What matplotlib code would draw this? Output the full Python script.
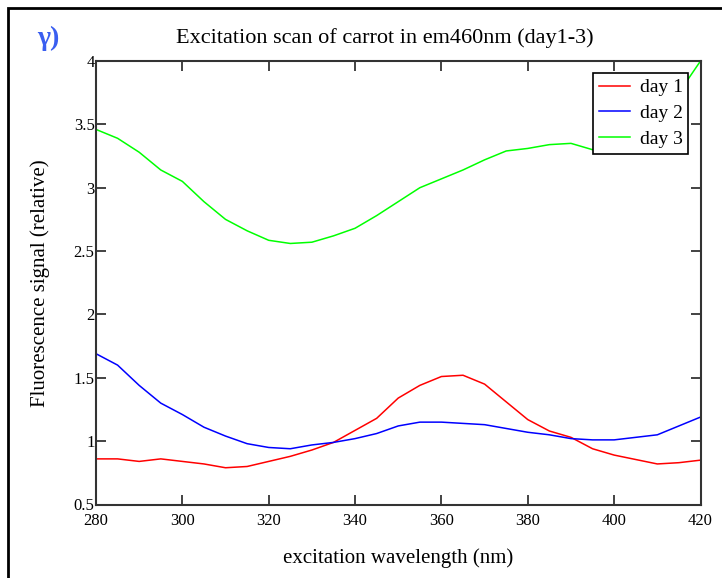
import matplotlib
matplotlib.use("Agg")
import matplotlib.pyplot as plt
from matplotlib.patches import Rectangle

plt.rcParams['font.family'] = ['Liberation Serif', 'DejaVu Serif']

wavelength = list(range(280, 421, 5))

day1 = [0.86, 0.86, 0.84, 0.86, 0.84, 0.82, 0.79, 0.80, 0.84, 0.88,
        0.93, 0.99, 1.085, 1.18, 1.34, 1.44, 1.51, 1.52, 1.45, 1.31,
        1.17, 1.08, 1.03, 0.94, 0.89, 0.855, 0.82, 0.83, 0.85]

day2 = [1.69, 1.60, 1.44, 1.30, 1.21, 1.11, 1.04, 0.98, 0.95, 0.94,
        0.97, 0.99, 1.02, 1.06, 1.12, 1.15, 1.15, 1.14, 1.13, 1.10,
        1.07, 1.05, 1.02, 1.01, 1.01, 1.03, 1.05, 1.12, 1.19]

day3 = [3.46, 3.39, 3.28, 3.14, 3.05, 2.89, 2.75, 2.66, 2.585, 2.56,
        2.57, 2.62, 2.68, 2.78, 2.89, 3.00, 3.07, 3.14, 3.22, 3.29,
        3.31, 3.34, 3.35, 3.30, 3.30, 3.40, 3.55, 3.75, 4.00]

series_labels = ['day 1', 'day 2', 'day 3']
series_colors = ['#ff0000', '#0000ff', '#00ff00']

x_ticks = [280, 300, 320, 340, 360, 380, 400, 420]
y_ticks = [0.5, 1, 1.5, 2, 2.5, 3, 3.5, 4]
y_tick_labels = ['0.5', '1', '1.5', '2', '2.5', '3', '3.5', '4']

W, H = 722, 578
fig = plt.figure(figsize=(W / 100, H / 100), dpi=100)

# outer frame of the figure panel
fig.patches.append(Rectangle((8 / W, -0.1), 1.2, 1.1 - 8 / H,
                             transform=fig.transFigure, fill=False,
                             edgecolor='black', linewidth=2.0))

left, right, top, bottom = 96, 700.5, 61, 504.5
ax = fig.add_axes([left / W, (H - bottom) / H, (right - left) / W, (bottom - top) / H])

for ys, lab, col in zip([day1, day2, day3], series_labels, series_colors):
    ax.plot(wavelength, ys, color=col, linewidth=1.1, label=lab)

ax.set_xlim(280, 420)
ax.set_ylim(0.5, 4)
ax.set_xticks(x_ticks)
ax.set_yticks(y_ticks)
ax.set_yticklabels(y_tick_labels)
ax.tick_params(direction='in', length=7, width=1.2, top=True, right=True,
               labelsize=12, colors='#222222', labelcolor='black')
ax.tick_params(axis='x', pad=6)
ax.tick_params(axis='y', pad=1)
for s in ax.spines.values():
    s.set_linewidth(1.5)
    s.set_color('#333333')

ax.set_xlabel('excitation wavelength (nm)', fontsize=15, labelpad=14)
ax.set_ylabel('Fluorescence signal (relative)', fontsize=15, labelpad=17)

fig.text(385 / W, 1 - 38 / H, 'Excitation scan of carrot in em460nm (day1-3)',
         ha='center', va='center', fontsize=16)
fig.text(48 / W, 1 - 38 / H, 'γ)', ha='center', va='center', fontsize=20,
         fontweight='bold', color='#3a5ef0')

leg = ax.legend(loc='upper right', bbox_to_anchor=(0.98, 0.973), fontsize=14,
                frameon=True, fancybox=False, framealpha=1.0, edgecolor='black',
                handlelength=1.6, borderpad=0.3, labelspacing=0.42,
                handletextpad=0.5, borderaxespad=0.0)
leg.get_frame().set_linewidth(1.2)

fig.savefig('out.png', dpi=100)
